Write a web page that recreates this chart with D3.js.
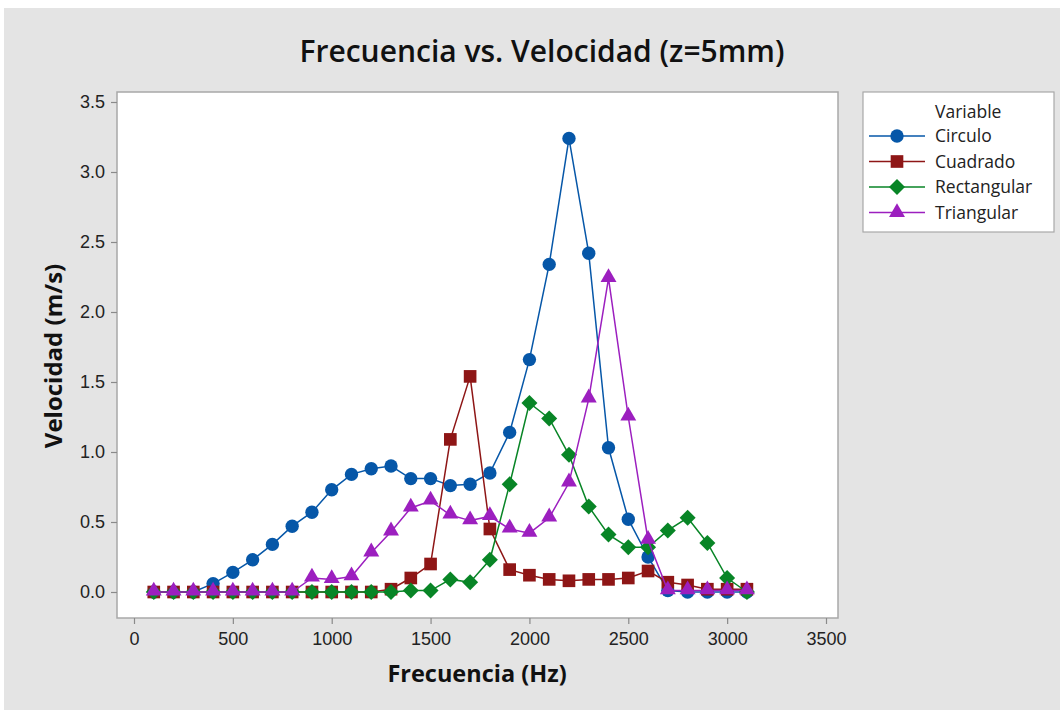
<!DOCTYPE html>
<html>
<head>
<meta charset="utf-8">
<script src="https://cdn.jsdelivr.net/npm/d3@7"></script>
<style>
  html, body { margin: 0; padding: 0; background: #ffffff; }
  svg { display: block; font-family: "Open Sans", "Noto Sans", sans-serif; }
</style>
</head>
<body>
<div id="chart"></div>
<script>
// frequencies (Hz)
var frecuencia = [100, 200, 300, 400, 500, 600, 700, 800, 900, 1000, 1100, 1200, 1300, 1400, 1500, 1600,
  1700, 1800, 1900, 2000, 2100, 2200, 2300, 2400, 2500, 2600, 2700, 2800, 2900, 3000, 3100];

// velocities (m/s)
var circulo = [0.00, 0.00, 0.00, 0.06, 0.14, 0.23, 0.34, 0.47, 0.57, 0.73, 0.84, 0.88, 0.90, 0.81, 0.81, 0.76,
  0.77, 0.85, 1.14, 1.66, 2.34, 3.24, 2.42, 1.03, 0.52, 0.25, 0.01, 0.00, 0.00, 0.00, 0.00];
var cuadrado = [0.00, 0.00, 0.00, 0.00, 0.00, 0.00, 0.00, 0.00, 0.00, 0.00, 0.00, 0.00, 0.02, 0.10, 0.20, 1.09,
  1.54, 0.45, 0.16, 0.12, 0.09, 0.08, 0.09, 0.09, 0.10, 0.15, 0.07, 0.05, 0.02, 0.02, 0.02];
var rectangular = [0.00, 0.00, 0.00, 0.00, 0.00, 0.00, 0.00, 0.00, 0.00, 0.00, 0.00, 0.00, 0.00, 0.01, 0.01, 0.09,
  0.07, 0.23, 0.77, 1.35, 1.24, 0.98, 0.61, 0.41, 0.32, 0.32, 0.44, 0.53, 0.35, 0.10, 0.00];
var triangular = [0.00, 0.00, 0.00, 0.00, 0.00, 0.00, 0.00, 0.00, 0.10, 0.09, 0.11, 0.28, 0.43, 0.60, 0.65, 0.55,
  0.51, 0.54, 0.45, 0.42, 0.53, 0.78, 1.38, 2.24, 1.25, 0.37, 0.01, 0.01, 0.01, 0.01, 0.01];

var xTicks = [0, 500, 1000, 1500, 2000, 2500, 3000, 3500];
var yTicks = [0, 0.5, 1.0, 1.5, 2.0, 2.5, 3.0, 3.5];

var seriesNames = ["Circulo", "Cuadrado", "Rectangular", "Triangular"];
var seriesValues = [circulo, cuadrado, rectangular, triangular];
var seriesColors = ["#0657a8", "#8e1616", "#088526", "#9c1fbf"];
var seriesSymbols = ["circle", "square", "diamond", "triangle"];

var width = 1064, height = 713;
var plot = { left: 117, right: 838, top: 92, bottom: 618 };

var svg = d3.select("#chart").append("svg")
  .attr("width", width)
  .attr("height", height);

// grey page with thin white margins
svg.append("rect").attr("x", 4).attr("y", 8).attr("width", 1056).attr("height", 702).attr("fill", "#e4e4e4");

svg.append("rect")
  .attr("x", plot.left).attr("y", plot.top)
  .attr("width", plot.right - plot.left).attr("height", plot.bottom - plot.top)
  .attr("fill", "#ffffff").attr("stroke", "#a8a8a8").attr("stroke-width", 1.5);

var xx = d3.scaleLinear().domain([0, 3500]).range([134, 826]);
var yy = d3.scaleLinear().domain([0, 3.5]).range([592, 102]);

var xAxis = d3.axisBottom(xx).tickValues(xTicks).tickSize(6).tickPadding(8).tickFormat(d3.format("d"));
var yAxis = d3.axisLeft(yy).tickValues(yTicks).tickSize(6).tickPadding(6).tickFormat(d3.format(".1f"));

var gx = svg.append("g").attr("transform", "translate(0," + plot.bottom + ")").call(xAxis);
var gy = svg.append("g").attr("transform", "translate(" + plot.left + ",0)").call(yAxis);
[gx, gy].forEach(function(g) {
  g.select(".domain").remove();
  g.selectAll(".tick line").attr("stroke", "#8a8a8a").attr("stroke-width", 1.2);
  g.selectAll(".tick text").attr("fill", "#222").style("font-size", "18px");
});

// rotated square, equal width and height like the reference
var diamond = {
  draw: function(context, size) {
    var r = Math.sqrt(size / 2);
    context.moveTo(0, -r);
    context.lineTo(r, 0);
    context.lineTo(0, r);
    context.lineTo(-r, 0);
    context.closePath();
  }
};
var symbolType = {
  circle: d3.symbolCircle, square: d3.symbolSquare,
  diamond: diamond, triangle: d3.symbolTriangle
};
var symbolSize = { circle: 140, square: 160, diamond: 128, triangle: 110 };

function marker(name) {
  return d3.symbol().type(symbolType[name]).size(symbolSize[name])();
}

var line = d3.line()
  .x(function(d, i) { return xx(frecuencia[i]); })
  .y(function(d) { return yy(d); });

seriesValues.forEach(function(vals, s) {
  var g = svg.append("g");
  g.append("path")
    .attr("d", line(vals))
    .attr("fill", "none")
    .attr("stroke", seriesColors[s])
    .attr("stroke-width", 1.5);
  g.selectAll("path.m").data(vals).enter().append("path")
    .attr("class", "m")
    .attr("d", marker(seriesSymbols[s]))
    .attr("transform", function(d, i) {
      var dy = seriesSymbols[s] === "triangle" ? -1 : 0;
      return "translate(" + xx(frecuencia[i]) + "," + (yy(d) + dy) + ")";
    })
    .attr("fill", seriesColors[s]);
});

// titles
svg.append("text")
  .attr("x", 542).attr("y", 62)
  .attr("text-anchor", "middle")
  .style("font-size", "30px").style("font-weight", 600)
  .attr("fill", "#111")
  .text("Frecuencia vs. Velocidad (z=5mm)");

svg.append("text")
  .attr("x", 477).attr("y", 682)
  .attr("text-anchor", "middle")
  .style("font-size", "23.5px").style("font-weight", 700)
  .attr("fill", "#111")
  .text("Frecuencia (Hz)");

svg.append("text")
  .attr("transform", "translate(62,356)rotate(-90)")
  .attr("text-anchor", "middle")
  .style("font-size", "24px").style("font-weight", 700)
  .attr("fill", "#111")
  .text("Velocidad (m/s)");

// legend
var lg = svg.append("g");
lg.append("rect")
  .attr("x", 863).attr("y", 92).attr("width", 191).attr("height", 140)
  .attr("fill", "#ffffff").attr("stroke", "#a8a8a8").attr("stroke-width", 1.2);
lg.append("text")
  .attr("x", 935).attr("y", 118)
  .style("font-size", "17.5px").attr("fill", "#222")
  .text("Variable");
seriesNames.forEach(function(name, s) {
  var y = 136 + s * 25.5;
  lg.append("line")
    .attr("x1", 869).attr("x2", 925).attr("y1", y).attr("y2", y)
    .attr("stroke", seriesColors[s]).attr("stroke-width", 1.5);
  lg.append("path")
    .attr("d", marker(seriesSymbols[s]))
    .attr("transform", "translate(897," + y + ")")
    .attr("fill", seriesColors[s]);
  lg.append("text")
    .attr("x", 935).attr("y", y + 6)
    .style("font-size", "17.5px").attr("fill", "#222")
    .text(name);
});
</script>
</body>
</html>
